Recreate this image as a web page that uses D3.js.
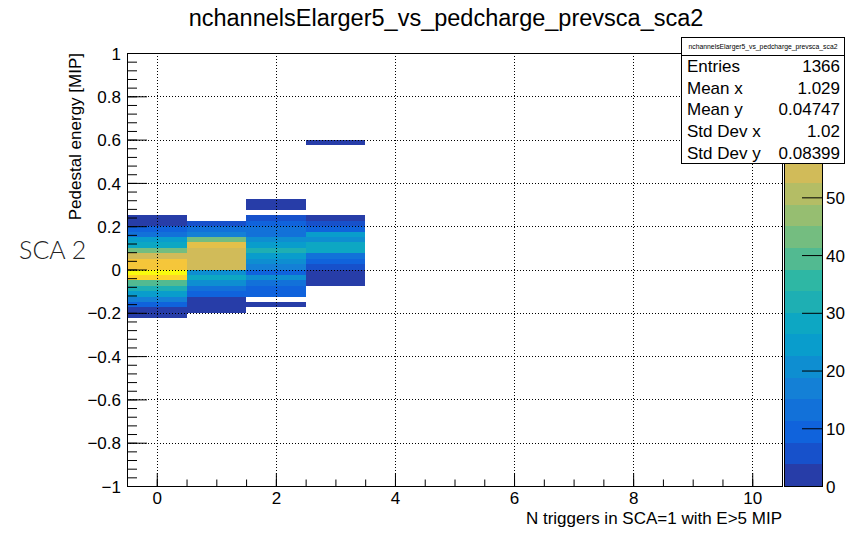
<!DOCTYPE html>
<html>
<head>
<meta charset="utf-8">
<script src="https://cdn.jsdelivr.net/npm/d3@7"></script>
<style>
  html, body { margin: 0; padding: 0; background: #fff; }
  svg text { font-family: "Liberation Sans", Arial, Helvetica, sans-serif; }
</style>
</head>
<body>
<svg id="chart" width="846" height="541"></svg>
<script>
// ---- histogram content: N triggers (x) vs pedestal energy (y), 0.025 MIP bins ----
const nTriggers = [0, 1, 2, 3];
// upper edge of the first listed y bin for each x column
const columnTopEdge = [0.25, 0.225, 0.325, 0.6];
// bin counts per column, listed from the top bin downward
const countsN0 = [2, 3, 9, 13, 24, 28, 43, 54, 62, 63, 75, 66, 39, 31, 24, 17, 10, 3, 2];
const countsN1 = [6, 13, 16, 43, 58, 54, 55, 54, 53, 20, 27, 21, 14, 9, 3, 2, 2];
const countsN2 = [1, 2, 0, 5, 8, 13, 12, 20, 24, 32, 26, 20, 16, 10, 19, 13, 10, 9, 0, 3];
const countsN3 = [1, 0, 0, 0, 0, 0, 0, 0, 0, 0, 0, 0, 0, 0,
                  2, 5, 9, 24, 20, 28, 27, 13, 9, 6, 3, 2, 2];
const yBinWidth = 0.025;

const xTicks = [0, 2, 4, 6, 8, 10];
const yTicks = [-1, -0.8, -0.6, -0.4, -0.2, 0, 0.2, 0.4, 0.6, 0.8, 1];
const zTicks = [0, 10, 20, 30, 40, 50];

const statLabels = ["Entries", "Mean x", "Mean y", "Std Dev x", "Std Dev y"];
const statValues = ["1366", "1.029", "0.04747", "1.02", "0.08399"];

const histName = "nchannelsElarger5_vs_pedcharge_prevsca_sca2";
const xTitle = "N triggers in SCA=1 with E>5 MIP";
const yTitle = "Pedestal energy [MIP]";
const sideNote = "SCA 2";

// ---- build bin table ----
const allCounts = [countsN0, countsN1, countsN2, countsN3];
const bins = [];
allCounts.forEach((arr, ci) => {
  arr.forEach((c, k) => {
    if (c > 0) {
      const hi = columnTopEdge[ci] - k * yBinWidth;
      bins.push({ x: nTriggers[ci], y0: hi - yBinWidth, y1: hi, count: c });
    }
  });
});

// ---- geometry ----
const frame = { left: 127, right: 782, top: 53, bottom: 486 };
const svg = d3.select("#chart");

const x = d3.scaleLinear().domain([-0.5, 10.5]).range([frame.left, frame.right]);
const y = d3.scaleLinear().domain([-1, 1]).range([frame.bottom, frame.top]);
const zMax = d3.max(bins, d => d.count);
const z = d3.scaleLinear().domain([0, zMax]).range([frame.bottom, frame.top]);

// ---- "bird" palette with 20 contour levels ----
const birdStops = [0.0, 0.125, 0.25, 0.375, 0.5, 0.625, 0.75, 0.875, 1.0];
const birdR = [0.2082, 0.0592, 0.0780, 0.0232, 0.1802, 0.5301, 0.8186, 0.9956, 0.9764];
const birdG = [0.1664, 0.3599, 0.5041, 0.6419, 0.7178, 0.7492, 0.7328, 0.7862, 0.9832];
const birdB = [0.5293, 0.8684, 0.8385, 0.7914, 0.6425, 0.4662, 0.3499, 0.1968, 0.0539];
const rInt = d3.scaleLinear().domain(birdStops).range(birdR).clamp(true);
const gInt = d3.scaleLinear().domain(birdStops).range(birdG).clamp(true);
const bInt = d3.scaleLinear().domain(birdStops).range(birdB).clamp(true);
const nLevels = 20, nColors = 255;
const levelColors = d3.range(nLevels).map(i => {
  const idx = Math.floor((i + 0.99) * nColors / nLevels);
  const t = idx / (nColors - 1);
  return d3.rgb(rInt(t) * 255, gInt(t) * 255, bInt(t) * 255).formatHex();
});
const levelOf = c => Math.min(nLevels - 1, Math.floor(0.01 + c * nLevels / zMax));

// ---- cells ----
svg.append("g").selectAll("rect").data(bins).join("rect")
  .attr("x", d => x(d.x - 0.5))
  .attr("width", d => x(d.x + 0.5) - x(d.x - 0.5))
  .attr("y", d => y(d.y1))
  .attr("height", d => y(d.y0) - y(d.y1))
  .attr("fill", d => levelColors[levelOf(d.count)])
  .attr("shape-rendering", "crispEdges");

// ---- grid ----
const grid = svg.append("g").attr("stroke", "#000").attr("stroke-width", 1)
  .attr("stroke-dasharray", "1,2");
grid.selectAll("line.gx").data(xTicks).join("line").attr("class", "gx")
  .attr("x1", d => Math.round(x(d)) + 0.5).attr("x2", d => Math.round(x(d)) + 0.5)
  .attr("y1", frame.top).attr("y2", frame.bottom);
grid.selectAll("line.gy").data(yTicks.filter(v => Math.abs(v) < 1)).join("line").attr("class", "gy")
  .attr("y1", d => Math.round(y(d)) + 0.5).attr("y2", d => Math.round(y(d)) + 0.5)
  .attr("x1", frame.left).attr("x2", frame.right);

// ---- axes ----
const fmt = v => (v < 0 ? "\u2212" : "") + String(Math.abs(+v.toFixed(2)));
const xMinor = d3.range(-0.5, 10.51, 0.5);
const yMinor = d3.range(-1, 1.001, 0.04).map(v => +v.toFixed(3));

const xAxis = d3.axisBottom(x).tickValues(xTicks).tickSize(-13).tickPadding(6).tickFormat(fmt);
const xAxisMinor = d3.axisBottom(x).tickValues(xMinor).tickSize(-6.5).tickFormat("");
const yAxis = d3.axisLeft(y).tickValues(yTicks).tickSize(-20).tickPadding(6).tickFormat(fmt);
const yAxisMinor = d3.axisLeft(y).tickValues(yMinor).tickSize(-10).tickFormat("");

function styleAxis(g) {
  g.select(".domain").remove();
  g.selectAll("line").attr("stroke", "#000").attr("stroke-width", 1);
  g.selectAll("text").attr("font-size", 17).attr("fill", "#000")
    .attr("font-family", "\"Liberation Sans\", Arial, sans-serif");
}
svg.append("g").attr("transform", `translate(0,${frame.bottom})`).call(xAxisMinor).call(styleAxis);
svg.append("g").attr("transform", `translate(0,${frame.bottom})`).call(xAxis).call(styleAxis);
svg.append("g").attr("transform", `translate(${frame.left},0)`).call(yAxisMinor).call(styleAxis);
svg.append("g").attr("transform", `translate(${frame.left},0)`).call(yAxis).call(styleAxis)
  .selectAll("text").attr("dy", "0.36em");

// frame
svg.append("rect")
  .attr("x", frame.left + 0.5).attr("y", frame.top + 0.5)
  .attr("width", frame.right - frame.left).attr("height", frame.bottom - frame.top)
  .attr("fill", "none").attr("stroke", "#000").attr("stroke-width", 1);

// ---- colour bar ----
const cb = { left: 784, right: 822 };
const levelStep = zMax / nLevels;
svg.append("g").selectAll("rect").data(d3.range(nLevels)).join("rect")
  .attr("x", cb.left).attr("width", cb.right - cb.left)
  .attr("y", i => z((i + 1) * levelStep))
  .attr("height", i => z(i * levelStep) - z((i + 1) * levelStep))
  .attr("fill", i => levelColors[i])
  .attr("shape-rendering", "crispEdges");
svg.append("rect").attr("x", cb.left + 0.5).attr("y", frame.top + 0.5)
  .attr("width", cb.right - cb.left).attr("height", frame.bottom - frame.top)
  .attr("fill", "none").attr("stroke", "#000").attr("stroke-width", 1);
const zAxis = d3.axisRight(z).tickValues(zTicks.filter(v => v <= zMax))
  .tickSize(-20).tickPadding(4).tickFormat(d3.format("d"));
svg.append("g").attr("transform", `translate(${cb.right},0)`).call(zAxis).call(styleAxis)
  .selectAll("text").attr("dy", "0.36em");

// ---- titles ----
svg.append("text").attr("x", 446).attr("y", 26).attr("text-anchor", "middle")
  .attr("font-size", 23.5).text(histName);
svg.append("text").attr("x", frame.right).attr("y", 524).attr("text-anchor", "end")
  .attr("font-size", 17).text(xTitle);
svg.append("text").attr("transform", `translate(81,${frame.top}) rotate(-90)`)
  .attr("text-anchor", "end").attr("font-size", 17).text(yTitle);

// ---- statistics box ----
const sb = { left: 681, right: 845, top: 37, head: 55, bottom: 163 };
const stats = svg.append("g");
stats.append("rect").attr("x", sb.left + 0.5).attr("y", sb.top + 0.5)
  .attr("width", sb.right - sb.left - 1).attr("height", sb.bottom - sb.top)
  .attr("fill", "#fff").attr("stroke", "#000");
stats.append("line").attr("x1", sb.left).attr("x2", sb.right)
  .attr("y1", sb.head + 0.5).attr("y2", sb.head + 0.5).attr("stroke", "#000");
stats.append("text").attr("x", (sb.left + sb.right) / 2).attr("y", sb.head - 6)
  .attr("text-anchor", "middle").attr("font-size", 6.8).text(histName);
const rowH = (sb.bottom - sb.head) / statLabels.length;
statLabels.forEach((lab, i) => {
  const by = sb.head + rowH * (i + 0.8);
  stats.append("text").attr("x", sb.left + 6).attr("y", by).attr("font-size", 17).text(lab);
  stats.append("text").attr("x", sb.right - 5).attr("y", by).attr("text-anchor", "end")
    .attr("font-size", 17).text(statValues[i]);
});

// ---- side note ----
svg.append("text").attr("x", 19).attr("y", 259)
  .attr("font-size", 25).attr("font-weight", 300)
  .style("font-family", "Lato, 'Open Sans', sans-serif")
  .attr("fill", "#222").text(sideNote);
</script>
</body>
</html>
